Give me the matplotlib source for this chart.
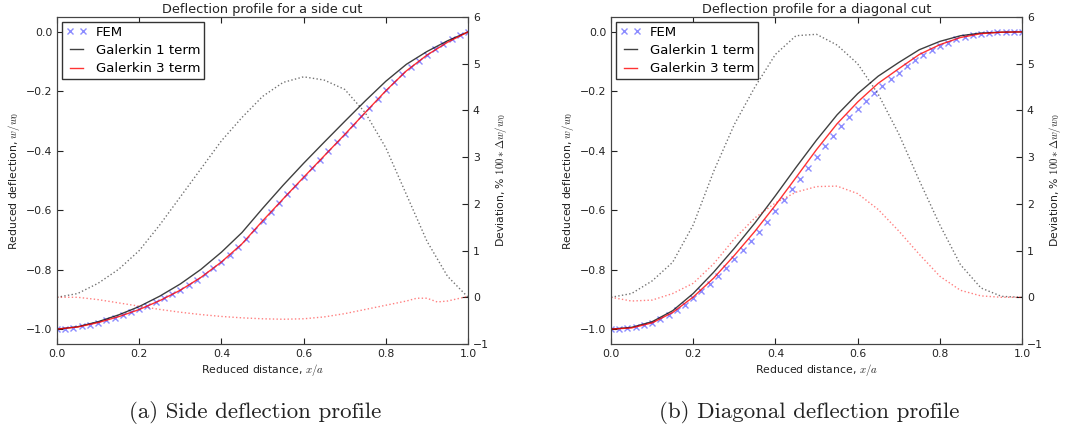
import matplotlib
matplotlib.use("Agg")
import matplotlib.pyplot as plt

plt.rcParams["mathtext.fontset"] = "cm"
plt.rcParams["font.family"] = ["DejaVu Sans"]

# common grid for the Galerkin curves and deviation curves
x_grid = [0.00, 0.05, 0.10, 0.15, 0.20, 0.25, 0.30, 0.35, 0.40, 0.45, 0.50,
          0.55, 0.60, 0.65, 0.70, 0.75, 0.80, 0.85, 0.90, 0.95, 1.00]

# FEM nodes
x_fem = [0.00, 0.02, 0.04, 0.06, 0.08, 0.10, 0.12, 0.14, 0.16, 0.18, 0.20,
         0.22, 0.24, 0.26, 0.28, 0.30, 0.32, 0.34, 0.36, 0.38, 0.40,
         0.42, 0.44, 0.46, 0.48, 0.50, 0.52, 0.54, 0.56, 0.58, 0.60,
         0.62, 0.64, 0.66, 0.68, 0.70, 0.72, 0.74, 0.76, 0.78, 0.80,
         0.82, 0.84, 0.86, 0.88, 0.90, 0.92, 0.94, 0.96, 0.98, 1.00]

# ---- side cut ----
fem_side = [-1.000, -0.999, -0.995, -0.991, -0.985, -0.978, -0.970, -0.962, -0.953, -0.944, -0.933,
            -0.921, -0.909, -0.896, -0.882, -0.867, -0.851, -0.834, -0.815, -0.795, -0.773,
            -0.749, -0.724, -0.697, -0.667, -0.635, -0.605, -0.575, -0.546, -0.517, -0.488,
            -0.459, -0.430, -0.401, -0.372, -0.343, -0.314, -0.284, -0.255, -0.226, -0.197,
            -0.170, -0.143, -0.119, -0.097, -0.077, -0.058, -0.041, -0.025, -0.010, 0.000]
gal1_side = [-1.000, -0.992, -0.975, -0.952, -0.924, -0.889, -0.848, -0.799, -0.741, -0.675, -0.594,
             -0.516, -0.442, -0.371, -0.301, -0.232, -0.166, -0.109, -0.066, -0.030, 0.000]
gal3_side = [-1.000, -0.993, -0.978, -0.958, -0.934, -0.904, -0.869, -0.826, -0.774, -0.713, -0.636,
             -0.562, -0.489, -0.417, -0.345, -0.271, -0.198, -0.131, -0.078, -0.035, 0.000]
dev1_side = [0.00, 0.08, 0.30, 0.60, 1.00, 1.55, 2.15, 2.75, 3.35, 3.85, 4.30,
             4.60, 4.72, 4.65, 4.45, 3.95, 3.20, 2.20, 1.20, 0.45, 0.00]
x_dev3_side = [0.00, 0.05, 0.10, 0.15, 0.20, 0.25, 0.30, 0.35, 0.40, 0.45, 0.50, 0.55,
               0.60, 0.65, 0.70, 0.75, 0.80, 0.85, 0.875, 0.90, 0.925, 0.95, 0.975, 1.00]
dev3_side = [0.00, 0.00, -0.05, -0.12, -0.19, -0.26, -0.32, -0.37, -0.41, -0.44, -0.46, -0.47,
             -0.46, -0.42, -0.35, -0.26, -0.17, -0.08, -0.02, -0.02, -0.10, -0.08, -0.03, 0.02]

# ---- diagonal cut ----
fem_diag = [-1.000, -0.999, -0.996, -0.993, -0.987, -0.978, -0.966, -0.952, -0.937, -0.918, -0.895,
            -0.872, -0.847, -0.822, -0.794, -0.765, -0.735, -0.704, -0.672, -0.638, -0.603,
            -0.567, -0.530, -0.494, -0.457, -0.420, -0.384, -0.349, -0.317, -0.287, -0.258,
            -0.231, -0.205, -0.181, -0.159, -0.138, -0.116, -0.095, -0.077, -0.061, -0.048,
            -0.036, -0.025, -0.016, -0.010, -0.006, -0.003, -0.002, -0.001, 0.000, 0.000]
gal1_diag = [-1.000, -0.994, -0.975, -0.938, -0.880, -0.808, -0.728, -0.643, -0.551, -0.456, -0.364,
             -0.279, -0.208, -0.149, -0.103, -0.060, -0.032, -0.013, -0.004, -0.001, 0.000]
gal3_diag = [-1.000, -0.996, -0.979, -0.944, -0.892, -0.828, -0.752, -0.671, -0.583, -0.490, -0.396,
             -0.309, -0.236, -0.173, -0.124, -0.076, -0.043, -0.019, -0.006, -0.001, 0.000]
dev1_diag = [0.00, 0.08, 0.35, 0.75, 1.55, 2.70, 3.70, 4.50, 5.20, 5.60, 5.63,
             5.40, 5.00, 4.35, 3.50, 2.50, 1.55, 0.70, 0.20, 0.02, 0.00]
dev3_diag = [0.00, -0.08, -0.06, 0.08, 0.30, 0.72, 1.25, 1.70, 2.02, 2.25, 2.37,
             2.38, 2.22, 1.88, 1.42, 0.92, 0.45, 0.15, 0.03, 0.00, 0.00]

FS = 7.8


def draw_panel(fig, rect, title, caption, cap_x, fem, gal1, gal3, x_dev3, dev1, dev3):
    ax = fig.add_axes(rect)
    ax.plot(x_fem, fem, "x", color="b", alpha=0.45, ms=5, mew=1.0, label="FEM")
    ax.plot(x_grid, gal1, "-", color="k", alpha=0.75, lw=1.0, label="Galerkin 1 term")
    ax.plot(x_grid, gal3, "-", color="r", alpha=0.8, lw=1.0, label="Galerkin 3 term")
    ax.set_xlim(0, 1)
    ax.set_ylim(-1.05, 0.05)
    ax.set_xticks([0.0, 0.2, 0.4, 0.6, 0.8, 1.0])
    ax.set_yticks([-1.0, -0.8, -0.6, -0.4, -0.2, 0.0])
    ax.tick_params(direction="in", top=True, right=False, length=4, labelsize=FS,
                   colors="#222222")
    ax.set_xlabel("Reduced distance, $x/a$", fontsize=FS, color="#222222", labelpad=2)
    ax.set_ylabel("Reduced deflection, $w/w_0$", fontsize=FS, color="#222222", labelpad=3)
    ax.set_title(title, fontsize=9.3, color="#222222", pad=3)
    ax.legend(loc="upper left", fontsize=9.5, numpoints=2, handlelength=1.6,
              fancybox=False, framealpha=1, edgecolor="#333333", borderaxespad=0.35,
              borderpad=0.3, labelspacing=0.4, handletextpad=0.7)

    ax2 = ax.twinx()
    ax2.plot(x_grid, dev1, ":", color="k", alpha=0.55, lw=1.0)
    ax2.plot(x_dev3, dev3, ":", color="r", alpha=0.5, lw=1.0)
    ax2.set_ylim(-1, 6)
    ax2.set_yticks([-1, 0, 1, 2, 3, 4, 5, 6])
    ax2.tick_params(direction="in", length=4, labelsize=FS, colors="#222222")
    ax2.set_ylabel("Deviation, % $100*\\Delta w/w_0$", fontsize=FS, color="#222222",
                   labelpad=3)
    for a in (ax, ax2):
        for s in a.spines.values():
            s.set_color("#444444")

    fig.text(cap_x, 0.046, caption, ha="center", va="center", fontsize=16.5,
             family="cmr10", color="#222222")


fig = plt.figure(figsize=(10.78, 4.32), dpi=100)
draw_panel(fig, [0.0529, 0.2037, 0.3813, 0.7569], "Deflection profile for a side cut",
           "(a) Side deflection profile", 0.2365,
           fem_side, gal1_side, gal3_side, x_dev3_side, dev1_side, dev3_side)
draw_panel(fig, [0.5668, 0.2037, 0.3813, 0.7569], "Deflection profile for a diagonal cut",
           "(b) Diagonal deflection profile", 0.751,
           fem_diag, gal1_diag, gal3_diag, x_grid, dev1_diag, dev3_diag)

fig.savefig("out.png", dpi=100, facecolor="white")
